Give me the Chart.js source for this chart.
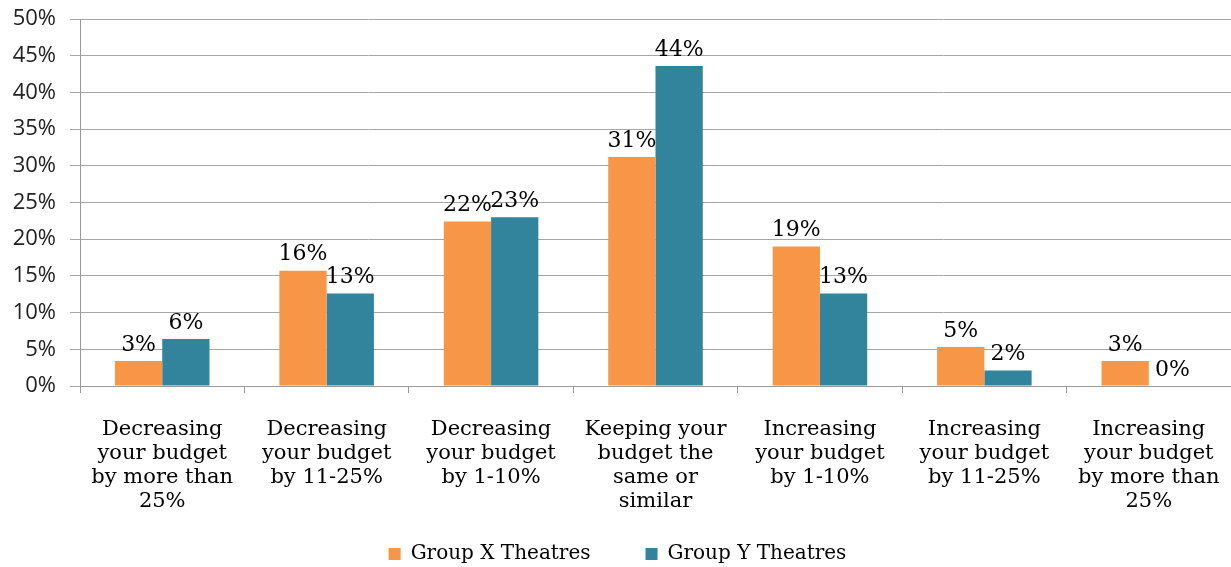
<!DOCTYPE html>
<html lang="en">
<head>
    <meta charset="UTF-8">
    <title>Budget changes by theatre group</title>
    <script src="https://cdn.jsdelivr.net/npm/chart.js"></script>
    <style>
        body {
            margin: 0;
            background-color: #fff;
        }
        .chart-box {
            width: 1231px;
            height: 567px;
            position: relative;
        }
    </style>
</head>
<body>
    <div class="chart-box">
        <canvas id="budgetChart"></canvas>
    </div>

    <script>
        const categories = [
            ["Decreasing", "your budget", "by more than", "25%"],
            ["Decreasing", "your budget", "by 11-25%"],
            ["Decreasing", "your budget", "by 1-10%"],
            ["Keeping your", "budget the", "same or", "similar"],
            ["Increasing", "your budget", "by 1-10%"],
            ["Increasing", "your budget", "by 11-25%"],
            ["Increasing", "your budget", "by more than", "25%"]
        ];
        const groupX = [3.4, 15.7, 22.4, 31.2, 19.0, 5.3, 3.4];
        const groupY = [6.4, 12.6, 23.0, 43.6, 12.6, 2.1, 0];
        const seriesNames = ["Group X Theatres", "Group Y Theatres"];

        const serifFont = "'DejaVu Serif', 'Liberation Serif', serif";
        const sansFont = "'Open Sans', 'Liberation Sans', sans-serif";

        // draws the percentage above each bar
        const valueLabels = {
            id: 'valueLabels',
            afterDatasetsDraw(chart) {
                const ctx = chart.ctx;
                ctx.save();
                ctx.font = "22px " + serifFont;
                ctx.fillStyle = "#000";
                ctx.textAlign = "center";
                ctx.textBaseline = "bottom";
                chart.data.datasets.forEach((ds, i) => {
                    chart.getDatasetMeta(i).data.forEach((bar, j) => {
                        ctx.fillText(Math.round(ds.data[j]) + "%", bar.x, bar.y - 5);
                    });
                });
                ctx.restore();
            }
        };

        // nudge the legend a little lower, closer to the bottom edge
        const legendNudge = {
            id: 'legendNudge',
            afterLayout(chart) {
                chart.legend.top += 7;
                chart.legend.bottom += 7;
            }
        };

        new Chart(document.getElementById('budgetChart'), {
            type: 'bar',
            data: {
                labels: categories,
                datasets: [
                    {
                        label: seriesNames[0],
                        data: groupX,
                        backgroundColor: '#F79646'
                    },
                    {
                        label: seriesNames[1],
                        data: groupY,
                        backgroundColor: '#31849B'
                    }
                ]
            },
            options: {
                responsive: true,
                maintainAspectRatio: false,
                animation: false,
                layout: { padding: { top: 19, right: -4, bottom: 0, left: 0 } },
                datasets: {
                    bar: { categoryPercentage: 0.575, barPercentage: 1.0 }
                },
                plugins: {
                    legend: {
                        position: 'bottom',
                        labels: {
                            font: { family: serifFont, size: 20 },
                            color: '#000',
                            boxWidth: 12,
                            boxHeight: 12,
                            padding: 1,
                            // wider gap between the two entries
                            generateLabels(chart) {
                                const items = Chart.defaults.plugins.legend.labels.generateLabels(chart);
                                items[0].text += '\u2003\u2003\u2002\u2009';
                                return items;
                            }
                        }
                    },
                    tooltip: { enabled: false }
                },
                scales: {
                    x: {
                        grid: {
                            drawOnChartArea: false,
                            offset: true,
                            tickLength: 7,
                            color: '#999'
                        },
                        border: { color: '#999' },
                        ticks: {
                            font: { family: serifFont, size: 21, lineHeight: 1.15 },
                            color: '#000',
                            maxRotation: 0,
                            autoSkip: false,
                            padding: 24
                        },
                        afterFit(scale) {
                            scale.height = 150;
                            scale.paddingLeft = 0;
                            scale.paddingRight = 0;
                        }
                    },
                    y: {
                        min: 0,
                        max: 50,
                        ticks: {
                            stepSize: 5,
                            callback: v => v + '%',
                            font: { family: sansFont, size: 22 },
                            color: '#222',
                            padding: 14
                        },
                        grid: { color: '#a6a6a6', tickLength: 10 },
                        border: { color: '#999' },
                        afterFit(scale) {
                            scale.width = 80;
                            scale.paddingTop = 0;
                            scale.paddingBottom = 0;
                        }
                    }
                }
            },
            plugins: [valueLabels, legendNudge]
        });
    </script>
</body>
</html>
